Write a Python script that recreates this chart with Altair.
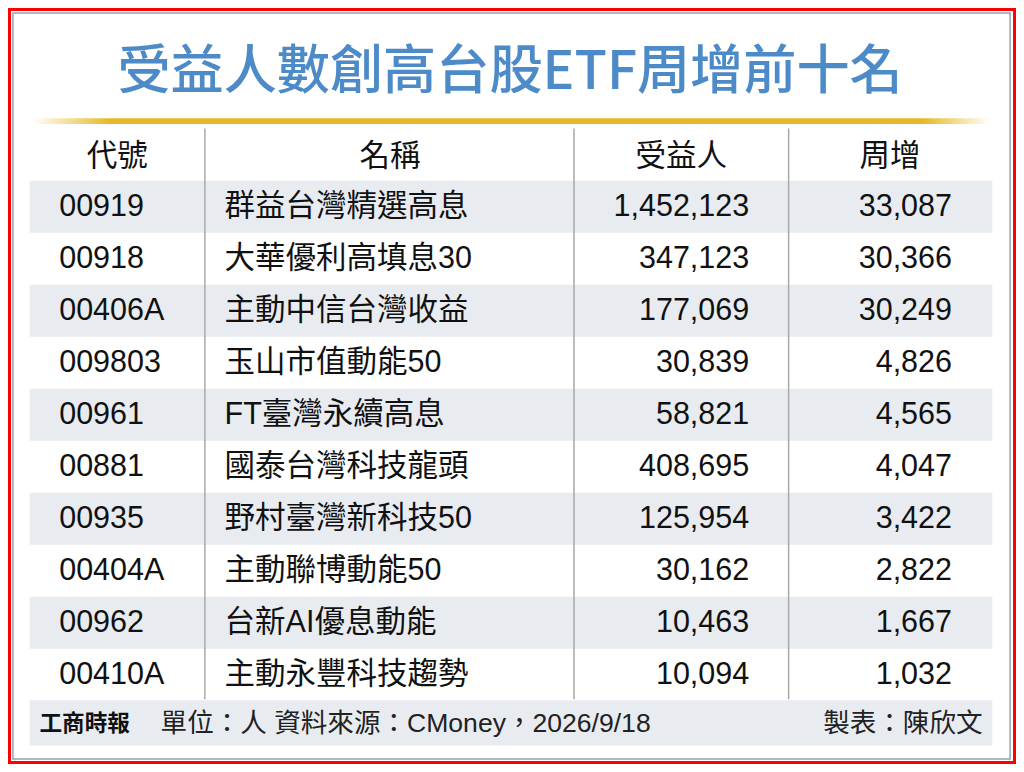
import altair as alt
import pandas as pd

# table contents
codes = ["00919", "00918", "00406A", "009803", "00961",
         "00881", "00935", "00404A", "00962", "00410A"]
names = ["群益台灣精選高息", "大華優利高填息30", "主動中信台灣收益", "玉山市值動能50",
         "FT臺灣永續高息", "國泰台灣科技龍頭", "野村臺灣新科技50", "主動聯博動能50",
         "台新AI優息動能", "主動永豐科技趨勢"]
holders = [1452123, 347123, 177069, 30839, 58821,
           408695, 125954, 30162, 10463, 10094]
weekly = [33087, 30366, 30249, 4826, 4565,
          4047, 3422, 2822, 1667, 1032]
headers = ["代號", "名稱", "受益人", "周增"]
header_x = [111, 388, 684, 896]
separators_x = [200, 575, 793]

title_text = "受益人數創高台股ETF周增前十名"
brand_text = "工商時報"
source_text = "單位：人  資料來源：CMoney，2026/9/18"
maker_text = "製表：陳欣文"

W, H = 1008, 756
K = W / 1024  # reference px -> chart px
ROW0, ROW_H = 203, 53.1

CJK = "'Noto Sans CJK TC', sans-serif"
MIX = "'Liberation Sans', 'Noto Sans CJK TC', sans-serif"

xs = alt.Scale(domain=[0, 1024], nice=False, zero=False)
ys = alt.Scale(domain=[0, 772], nice=False, zero=False, reverse=True)


def X(v):
    return alt.X(datum=v, scale=xs, axis=None)


def Y(v):
    return alt.Y(datum=v, scale=ys, axis=None)


rows = pd.DataFrame({
    "row": list(range(len(codes))),
    "code": codes,
    "name": names,
    "holders": holders,
    "weekly": weekly,
})
head_df = pd.DataFrame({"label": headers, "x": header_x})
sep_df = pd.DataFrame({"x": separators_x})
one = pd.DataFrame({"k": [0]})

base_rows = alt.Chart(rows).transform_calculate(
    yc=f"{ROW0} + {ROW_H} * datum.row"
)

red_frame = alt.Chart(one).mark_rect(
    filled=False, stroke="#ff0000", strokeWidth=3
).encode(x=X(1.5), x2=alt.X2(datum=1022.5), y=Y(1.5), y2=alt.Y2(datum=770.5))

inner_frame = alt.Chart(one).mark_rect(
    filled=False, stroke="#8ea3ba", strokeWidth=1.5
).encode(x=X(5), x2=alt.X2(datum=1018), y=Y(5), y2=alt.Y2(datum=767))

title = alt.Chart(one).mark_text(
    text=title_text, font=CJK, fontSize=54 * K, fontWeight=500,
    color="#4d8bc8", align="center", baseline="middle"
).encode(x=X(510), y=Y(66))

gold = alt.Chart(one).mark_rect(
    color=alt.LinearGradient(
        gradient="linear", x1=0, x2=1, y1=0, y2=0,
        stops=[
            alt.GradientStop(color="#ffffff", offset=0),
            alt.GradientStop(color="#e8b927", offset=0.08),
            alt.GradientStop(color="#e8b927", offset=0.93),
            alt.GradientStop(color="#ffffff", offset=1),
        ],
    )
).encode(x=X(25), x2=alt.X2(datum=998), y=Y(112.5), y2=alt.Y2(datum=118.5))

bands = base_rows.transform_filter("datum.row % 2 == 0").transform_calculate(
    y0=f"datum.yc - {ROW_H / 2}", y1=f"datum.yc + {ROW_H / 2}"
).mark_rect(color="#e8ecf1").encode(
    x=X(22), x2=alt.X2(datum=1000),
    y=alt.Y("y0:Q", scale=ys, axis=None), y2="y1:Q"
)

footer_band = alt.Chart(one).mark_rect(color="#e8ecf1").encode(
    x=X(22), x2=alt.X2(datum=1000), y=Y(707), y2=alt.Y2(datum=753)
)

seps = alt.Chart(sep_df).mark_rule(color="#a8a8a8", strokeWidth=1.5).encode(
    x=alt.X("x:Q", scale=xs, axis=None), y=Y(123), y2=alt.Y2(datum=706)
)

head = alt.Chart(head_df).mark_text(
    font=CJK, fontSize=31 * K, color="#111111", align="center", baseline="middle"
).encode(x=alt.X("x:Q", scale=xs, axis=None), y=Y(152), text="label:N")

cell = dict(fontSize=31 * K, color="#111111", baseline="middle")
code_txt = base_rows.mark_text(font=MIX, align="left", **cell).encode(
    x=X(52), y=alt.Y("yc:Q", scale=ys, axis=None), text="code:N")
name_txt = base_rows.mark_text(font=MIX, align="left", **cell).encode(
    x=X(220), y=alt.Y("yc:Q", scale=ys, axis=None), text="name:N")
hold_txt = base_rows.mark_text(font=MIX, align="right", **cell).encode(
    x=X(753), y=alt.Y("yc:Q", scale=ys, axis=None),
    text=alt.Text("holders:Q", format=","))
week_txt = base_rows.mark_text(font=MIX, align="right", **cell).encode(
    x=X(959), y=alt.Y("weekly:Q" if False else "yc:Q", scale=ys, axis=None),
    text=alt.Text("weekly:Q", format=","))

brand = alt.Chart(one).mark_text(
    text=brand_text, font=CJK, fontSize=23 * K, fontWeight="bold",
    color="#111111", align="left", baseline="middle"
).encode(x=X(32), y=Y(731))
source = alt.Chart(one).mark_text(
    text=source_text, font=MIX, fontSize=27 * K,
    color="#222222", align="left", baseline="middle"
).encode(x=X(155), y=Y(731))
maker = alt.Chart(one).mark_text(
    text=maker_text, font=CJK, fontSize=27 * K,
    color="#222222", align="right", baseline="middle"
).encode(x=X(990), y=Y(731))

chart = alt.layer(
    red_frame, inner_frame, title, gold, bands, footer_band, seps,
    head, code_txt, name_txt, hold_txt, week_txt, brand, source, maker
).properties(
    width=W, height=H, padding=0,
    autosize=alt.AutoSizeParams(type="none"),
    background="#ffffff",
).configure_view(strokeWidth=0)

chart.save("out.html", embed_options={"renderer": "svg", "actions": False})
